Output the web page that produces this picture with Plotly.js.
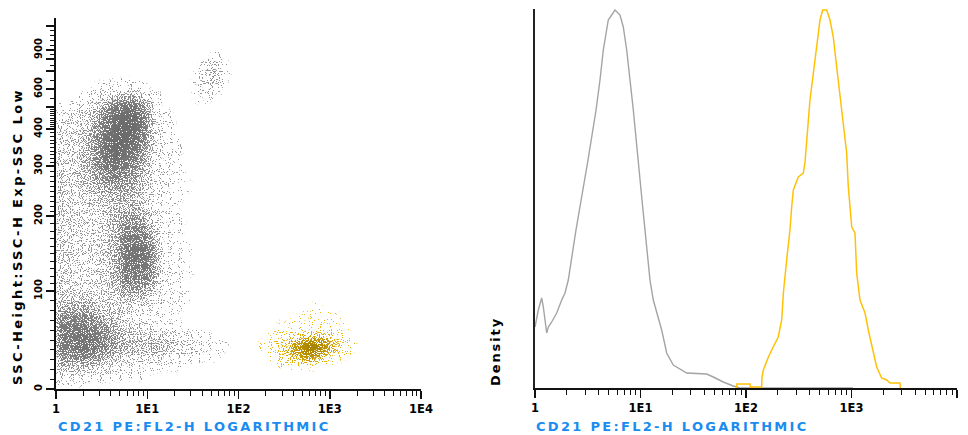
<!DOCTYPE html>
<html><head><meta charset="utf-8">
<script src="https://cdn.plot.ly/plotly-3.0.1.min.js"></script>
<style>html,body{margin:0;padding:0;background:#fff}#chart{width:968px;height:435px}</style>
</head><body>
<svg width="0" height="0" style="position:absolute">
 <defs>
  <filter id="dither" x="-5%" y="-5%" width="110%" height="110%" color-interpolation-filters="sRGB">
   <feGaussianBlur in="SourceGraphic" stdDeviation="3.4" result="soft"/>
   <feColorMatrix in="soft" type="matrix" values="1 0 0 0 0  0 1 0 0 0  0 0 1 0 0  0 0 0 0 1" result="solid"/>
   <feTurbulence type="fractalNoise" baseFrequency="0.9" numOctaves="1" seed="7" result="noise"/>
   <feColorMatrix in="noise" type="matrix" values="0 0 0 0 0  0 0 0 0 0  0 0 0 0 0  0 0 0 2.6 -0.8" result="thr"/>
   <feComposite in="soft" in2="thr" operator="arithmetic" k1="0" k2="20" k3="-20" k4="-0.5" result="mask"/>
   <feComposite in="solid" in2="mask" operator="in"/>
  </filter>
 </defs>
</svg>
<div id="chart"></div>
<script>
// ---------- axis definitions ----------
const decadeTicks = [1, 10, 100, 1000, 10000];
const decadeLabels = ['1', '1E1', '1E2', '1E3', '1E4'];
const minorDecadeTicks = [2,3,4,5,6,7,8,9,20,30,40,50,60,70,80,90,200,300,400,500,600,700,800,900,2000,3000,4000,5000,6000,7000,8000,9000];
// SSC display scale of the instrument (tick value -> display channel)
const sscTickValues  = [0, 100, 200, 300, 400, 500, 600, 700, 800, 900, 1000];
const sscTickDisplay = [0, 98, 173, 223, 260, 282, 300, 318, 330, 339, 363];
const sscTickLabels  = ['0','100','200','300','400','','600','','','900',''];
const sscMinorTicks = [10,20,30,40,50,60,70,80,90,110,120,130,140,150,160,170,180,190,210,220,230,240,250,260,270,280,290,310,320,330,340,350,360,370,380,390,410,420,430,440,450,460,470,480,490,550,650,750,850,920,940,960,980];

// ---------- left panel: event density (all events, gray) ----------
const fl2Bins = [1.12,1.41,1.78,2.24,2.82,3.55,4.47,5.62,7.08,8.91,11.2,14.1,17.8,22.4,28.2,35.5,44.7,56.2,70.8,89.1];
const sscBins = [5,15,25,35,45,55,65,75,85,95,110,125,140,155,170,185,200,220,240,260,280,300,330,360,390,420,460,500,550,600,680,760,850,950];
const allEvents = [
 [1,1,1,1,0,0,0,0,0,0,0,0,0,0,0,0,0,0,0,0],
 [3,3,3,3,2,2,1,1,1,1,0,0,0,0,0,0,0,0,0,0],
 [5,5,5,5,4,3,3,2,2,2,2,1,1,1,0,0,0,0,0,0],
 [7,7,8,8,7,6,5,4,4,4,4,4,3,3,2,2,1,1,0,0],
 [8,8,9,9,8,7,6,5,5,5,5,5,4,4,3,3,2,1,1,0],
 [8,8,9,9,8,7,6,5,4,4,4,3,3,2,2,1,1,0,0,0],
 [8,8,8,8,7,6,5,4,3,3,2,2,1,1,0,0,0,0,0,0],
 [7,7,7,7,6,5,4,3,2,2,2,1,1,0,0,0,0,0,0,0],
 [5,5,5,5,4,4,3,3,3,3,2,1,1,1,0,0,0,0,0,0],
 [4,4,4,4,3,3,4,5,5,5,3,2,1,1,1,0,0,0,0,0],
 [4,3,3,3,3,4,5,7,7,7,6,2,1,1,0,0,0,0,0,0],
 [4,3,3,3,3,4,5,8,8,8,7,3,1,1,1,0,0,0,0,0],
 [4,3,3,3,3,4,5,8,9,9,7,3,1,1,0,0,0,0,0,0],
 [4,3,3,3,3,4,5,8,9,9,7,3,1,1,1,0,0,0,0,0],
 [4,3,3,3,3,4,5,8,8,8,6,2,1,1,0,0,0,0,0,0],
 [4,3,3,3,3,4,5,7,7,7,5,2,1,1,0,0,0,0,0,0],
 [4,3,3,3,3,4,5,6,6,5,3,1,1,1,0,0,0,0,0,0],
 [4,3,3,3,4,4,5,5,5,4,3,1,1,0,0,0,0,0,0,0],
 [4,3,3,4,4,5,5,5,5,4,3,2,1,1,0,0,0,0,0,0],
 [4,3,4,4,5,6,6,6,5,4,3,2,1,1,1,0,0,0,0,0],
 [4,3,4,5,6,7,8,7,6,5,3,2,1,1,0,0,0,0,0,0],
 [4,3,4,5,7,8,9,8,7,5,3,2,1,1,0,0,0,0,0,0],
 [4,3,4,5,7,9,10,9,8,6,3,2,1,1,0,0,0,0,0,0],
 [4,3,4,5,7,9,10,10,9,7,4,2,1,1,0,0,0,0,0,0],
 [3,3,4,5,7,9,10,10,10,8,4,2,1,0,0,0,0,0,0,0],
 [3,3,3,4,6,8,10,10,10,8,4,2,1,0,0,0,0,0,0,0],
 [2,2,3,4,6,8,9,10,10,8,4,2,1,0,0,0,0,0,0,0],
 [1,1,2,3,4,6,8,9,9,7,3,1,0,0,0,0,0,0,0,0],
 [0,0,1,2,3,4,5,6,6,5,2,1,0,0,0,1,1,0,0,0],
 [0,0,0,0,1,1,2,2,2,1,0,0,0,0,0,1,3,2,0,0],
 [0,0,0,0,0,0,0,0,0,0,0,0,0,0,0,1,4,5,1,0],
 [0,0,0,0,0,0,0,0,0,0,0,0,0,0,0,0,2,3,1,0],
 [0,0,0,0,0,0,0,0,0,0,0,0,0,0,0,0,0,1,0,0],
 [0,0,0,0,0,0,0,0,0,0,0,0,0,0,0,0,0,0,0,0]
];
// CD21+ gated events (yellow)
const cd21PosBins = [178,224,282,355,447,562,708,891,1122,1413,1778];
const cd21PosSsc = [25,35,45,55,65,75,85];
const cd21PosEvents = [
 [0,0,1,1,1,1,1,0,0,0,0],
 [0,1,2,4,6,8,7,4,2,1,0],
 [1,1,3,5,7,9,10,8,4,2,1],
 [0,1,1,2,2,3,3,3,2,1,0],
 [0,0,1,1,1,1,1,1,1,1,0],
 [0,0,0,0,1,1,1,1,1,0,0],
 [0,0,0,0,0,0,1,0,0,0,0]
];

// ---------- right panel: density histograms ----------
const grayHistX = [1.00,1.075,1.157,1.199,1.291,1.337,1.440,1.606,1.791,1.925,2.068,2.446,3.18,3.79,4.13,4.44,4.95,5.73,6.39,6.87,7.40,7.95,8.55,10.33,12.30,13.22,15.88,17.71,20.46,27.40,42.42,48.98,60.9,75.8,87.7,1033];
const grayHistY = [61,78,90,81,55,61,66,75,88,95,108,158,228,278,308,338,368,378,373,361,338,308,278,188,108,88,58,35,23,15,14,11,6,2,0,0];
const yellowHistX = [81.6,82,109,110,141,141.5,146,163,181,202,218,226,243,261,271,281,313,349,362,376,390,404,435,468,503,533,582,625,672,724,778,836,900,933,1005,1079,1120,1204,1343,1443,1609,1733,1932,2157,2318,2884,2900];
const yellowHistY = [0,4,4,1,1,10,18,31,41,51,68,95,128,158,181,198,211,215,225,245,271,288,315,341,368,378,378,368,351,321,291,261,235,201,161,155,115,88,75,58,35,21,10,8,5,5,0];

function sscToDisplay(v) {
  for (let i = 1; i < sscTickValues.length; i++) {
    if (v <= sscTickValues[i]) {
      const a = sscTickValues[i-1], b = sscTickValues[i];
      return sscTickDisplay[i-1] + (v - a) / (b - a) * (sscTickDisplay[i] - sscTickDisplay[i-1]);
    }
  }
  return sscTickDisplay[sscTickDisplay.length - 1];
}

const W = 968, H = 435;
const px = v => v / W, py = v => 1 - v / H;
const bold = {family: 'DejaVu Sans', weight: 'bold', color: '#000'};

const traces = [
  {type: 'heatmap', x: fl2Bins, y: sscBins.map(sscToDisplay), z: allEvents, zmin: 0, zmax: 10, zsmooth: 'best',
   colorscale: [[0,'rgba(152,152,152,0)'],[0.1,'rgba(152,152,152,0.13)'],[0.3,'rgba(148,148,148,0.3)'],[0.5,'rgba(140,140,140,0.5)'],[0.7,'rgba(128,128,128,0.72)'],[0.85,'rgba(118,118,118,0.87)'],[1,'rgba(108,108,108,1)']],
   showscale: false, hoverinfo: 'skip', xaxis: 'x', yaxis: 'y'},
  {type: 'heatmap', x: cd21PosBins, y: cd21PosSsc.map(sscToDisplay), z: cd21PosEvents, zmin: 0, zmax: 10, zsmooth: 'best',
   colorscale: [[0,'rgba(236,186,10,0)'],[0.1,'rgba(236,186,10,0.13)'],[0.3,'rgba(228,178,8,0.32)'],[0.6,'rgba(196,152,0,0.72)'],[1,'rgba(156,122,0,1)']],
   showscale: false, hoverinfo: 'skip', xaxis: 'x', yaxis: 'y'},
  {type: 'scatter', mode: 'lines', x: grayHistX, y: grayHistY, line: {color: '#a4a4a4', width: 1.4}, xaxis: 'x2', yaxis: 'y2', hoverinfo: 'skip'},
  {type: 'scatter', mode: 'lines', x: yellowHistX, y: yellowHistY, line: {color: '#ffc107', width: 1.5}, xaxis: 'x2', yaxis: 'y2', hoverinfo: 'skip'}
];

const logAxis = (dom, anchor) => ({
  domain: dom, anchor: anchor, type: 'log', range: [0, 4], showline: true, linecolor: '#111', linewidth: 2,
  ticks: 'outside', ticklen: 8, tickwidth: 1.5, tickcolor: '#111', tickmode: 'array', tickvals: decadeTicks, ticktext: decadeLabels,
  tickfont: Object.assign({size: 11.5}, bold),
  minor: {tickmode: 'array', tickvals: minorDecadeTicks, ticks: 'outside', ticklen: 5, tickwidth: 1, tickcolor: '#111', showgrid: false},
  showgrid: false, zeroline: false, fixedrange: true
});

const titleFont = {family: 'DejaVu Sans', weight: 'bold', size: 13, color: '#1a8cf0'};
const layout = {
  width: W, height: H, margin: {l: 0, r: 0, t: 0, b: 0}, paper_bgcolor: '#fff', plot_bgcolor: 'rgba(0,0,0,0)', showlegend: false,
  font: {family: 'DejaVu Sans', color: '#000'},
  xaxis: logAxis([px(56), px(421)], 'y'),
  yaxis: {domain: [py(389), py(18)], anchor: 'x', range: [0, 371], showline: true, linecolor: '#111', linewidth: 2,
    ticks: 'outside', ticklen: 8, tickwidth: 1.5, tickcolor: '#111', tickmode: 'array',
    tickvals: sscTickValues.map(sscToDisplay), ticktext: sscTickLabels, tickangle: -90,
    tickfont: Object.assign({size: 10}, bold),
    minor: {tickmode: 'array', tickvals: sscMinorTicks.map(sscToDisplay), ticks: 'outside', ticklen: 4, tickwidth: 1, tickcolor: '#111', showgrid: false},
    showgrid: false, zeroline: false, fixedrange: true},
  xaxis2: logAxis([px(535), px(957)], 'y2'),
  yaxis2: {domain: [py(388), py(9)], anchor: 'x2', range: [0, 379], showline: true, linecolor: '#222', linewidth: 2,
    ticks: '', showticklabels: false, showgrid: false, zeroline: false, fixedrange: true},
  annotations: [
    {text: '<span style="letter-spacing:2.3px">CD21 PE:FL2-H LOGARITHMIC</span>', xref: 'paper', yref: 'paper', x: px(56), y: py(426),
     xanchor: 'left', yanchor: 'middle', showarrow: false, font: titleFont},
    {text: '<span style="letter-spacing:2.3px">CD21 PE:FL2-H LOGARITHMIC</span>', xref: 'paper', yref: 'paper', x: px(534), y: py(426),
     xanchor: 'left', yanchor: 'middle', showarrow: false, font: titleFont},
    {text: '<span style="letter-spacing:2.4px">SSC-Height:SSC-H Exp-SSC Low</span>', xref: 'paper', yref: 'paper', x: px(17), y: py(237),
     xanchor: 'center', yanchor: 'middle', textangle: -90, showarrow: false, font: Object.assign({size: 13}, bold)},
    {text: '<span style="letter-spacing:1.9px">Density</span>', xref: 'paper', yref: 'paper', x: px(495), y: py(352),
     xanchor: 'center', yanchor: 'middle', textangle: -90, showarrow: false, font: Object.assign({size: 13}, bold)}
  ]
};

Plotly.newPlot('chart', traces, layout, {staticPlot: true, displayModeBar: false}).then(() => {
  document.querySelectorAll('#chart .hm image').forEach(im => im.setAttribute('filter', 'url(#dither)'));
});
</script>
</body></html>
